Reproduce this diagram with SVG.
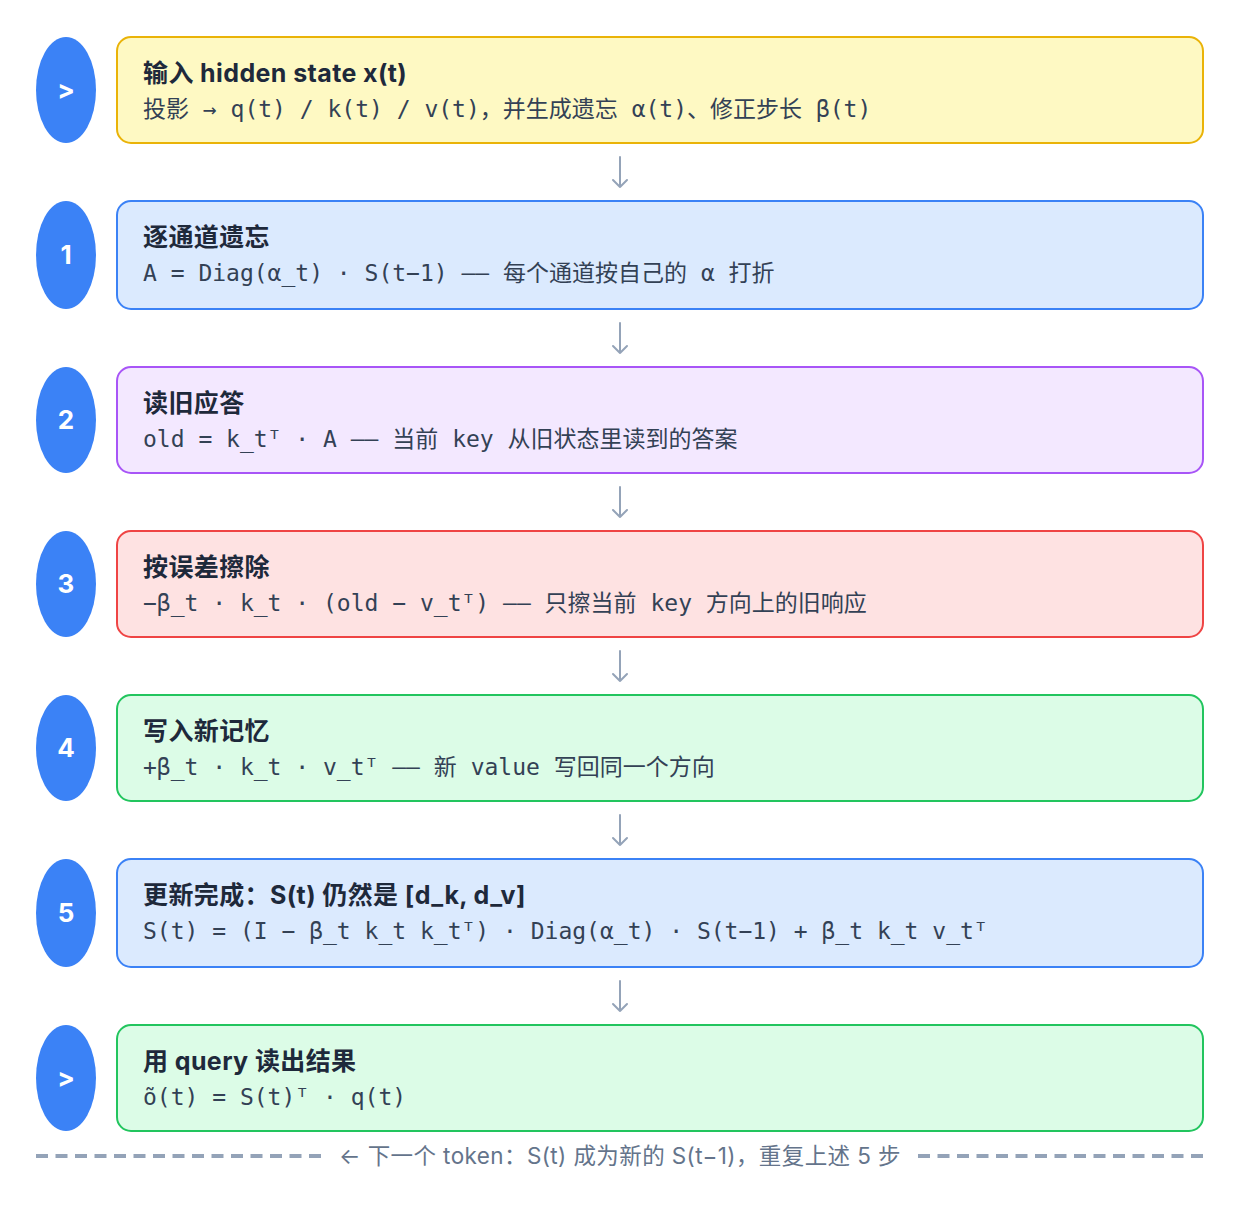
<svg xmlns="http://www.w3.org/2000/svg" width="1240" height="1208" viewBox="0 0 1240 1208">
<style>
.bg{fill:#ffffff}
.dot{fill:#3B82F6}
.num{font-family:"Inter","Liberation Sans",sans-serif;font-weight:700;font-size:26px;fill:#ffffff;text-anchor:middle}
.t{font-family:"Inter","Noto Sans CJK SC",sans-serif;font-weight:700;font-size:25px;letter-spacing:0.4px;fill:#1E293B}
.m{font-family:"DejaVu Sans Mono","Noto Sans CJK SC",monospace;font-size:23px;fill:#334155}
.c{font-family:"Noto Sans CJK SC",sans-serif}
.yel{fill:#FEF9C3;stroke:#EAB308;stroke-width:2}
.blu{fill:#DBEAFE;stroke:#3B82F6;stroke-width:2}
.pur{fill:#F3E8FF;stroke:#A855F7;stroke-width:2}
.red{fill:#FEE2E2;stroke:#EF4444;stroke-width:2}
.grn{fill:#DCFCE7;stroke:#22C55E;stroke-width:2}
.arr{fill:none;stroke:#94A3B8;stroke-width:2;stroke-linecap:round;stroke-linejoin:round}
.dash{fill:none;stroke:#94A3B8;stroke-width:4;stroke-dasharray:12 7.5}
.note{font-family:"Inter","Noto Sans CJK SC",sans-serif;font-size:22.5px;letter-spacing:0.4px;fill:#64748B;text-anchor:middle}
</style>
<rect class="bg" x="0" y="0" width="1240" height="1208"/>

<g id="step-input">
<ellipse class="dot" cx="66" cy="90" rx="30" ry="53"/>
<text class="num" x="66" y="99">&gt;</text>
<rect class="yel" x="117" y="37" width="1086" height="106" rx="14"/>
<text class="t" x="143" y="82">输入 hidden state x(t)</text>
<text class="m" x="143" y="117"><tspan class="c">投影</tspan> → q(t) / k(t) / v(t)<tspan class="c">，并生成遗忘</tspan> α(t)<tspan class="c">、修正步长</tspan> β(t)</text>
</g>

<g id="step-1">
<ellipse class="dot" cx="66" cy="255" rx="30" ry="54"/>
<text class="num" x="66" y="264">1</text>
<rect class="blu" x="117" y="201" width="1086" height="108" rx="14"/>
<text class="t" x="143" y="246">逐通道遗忘</text>
<text class="m" x="143" y="281">A = Diag(α_t) · S(t−1) <tspan>——</tspan> <tspan class="c">每个通道按自己的</tspan> α <tspan class="c">打折</tspan></text>
</g>

<g id="step-2">
<ellipse class="dot" cx="66" cy="420" rx="30" ry="53"/>
<text class="num" x="66" y="429">2</text>
<rect class="pur" x="117" y="367" width="1086" height="106" rx="14"/>
<text class="t" x="143" y="412">读旧应答</text>
<text class="m" x="143" y="447">old = k_tᵀ · A <tspan>——</tspan> <tspan class="c">当前</tspan> key <tspan class="c">从旧状态里读到的答案</tspan></text>
</g>

<g id="step-3">
<ellipse class="dot" cx="66" cy="584" rx="30" ry="53"/>
<text class="num" x="66" y="593">3</text>
<rect class="red" x="117" y="531" width="1086" height="106" rx="14"/>
<text class="t" x="143" y="576">按误差擦除</text>
<text class="m" x="143" y="611">−β_t · k_t · (old − v_tᵀ) <tspan>——</tspan> <tspan class="c">只擦当前</tspan> key <tspan class="c">方向上的旧响应</tspan></text>
</g>

<g id="step-4">
<ellipse class="dot" cx="66" cy="748" rx="30" ry="53"/>
<text class="num" x="66" y="757">4</text>
<rect class="grn" x="117" y="695" width="1086" height="106" rx="14"/>
<text class="t" x="143" y="740">写入新记忆</text>
<text class="m" x="143" y="775">+β_t · k_t · v_tᵀ <tspan>——</tspan> <tspan class="c">新</tspan> value <tspan class="c">写回同一个方向</tspan></text>
</g>

<g id="step-5">
<ellipse class="dot" cx="66" cy="913" rx="30" ry="54"/>
<text class="num" x="66" y="922">5</text>
<rect class="blu" x="117" y="859" width="1086" height="108" rx="14"/>
<text class="t" x="143" y="904">更新完成：S(t) 仍然是 [d_k, d_v]</text>
<text class="m" x="143" y="939">S(t) = (I − β_t k_t k_tᵀ) · Diag(α_t) · S(t−1) + β_t k_t v_tᵀ</text>
</g>

<g id="step-output">
<ellipse class="dot" cx="66" cy="1078" rx="30" ry="53"/>
<text class="num" x="66" y="1087">&gt;</text>
<rect class="grn" x="117" y="1025" width="1086" height="106" rx="14"/>
<text class="t" x="143" y="1070">用 query 读出结果</text>
<text class="m" x="143" y="1105">õ(t) = S(t)ᵀ · q(t)</text>
</g>

<g id="connectors">
<path class="arr" d="M620 157V187M613 180L620 187L627 180"/>
<path class="arr" d="M620 323V353M613 346L620 353L627 346"/>
<path class="arr" d="M620 487V517M613 510L620 517L627 510"/>
<path class="arr" d="M620 651V681M613 674L620 681L627 674"/>
<path class="arr" d="M620 815V845M613 838L620 845L627 838"/>
<path class="arr" d="M620 981V1011M613 1004L620 1011L627 1004"/>
</g>

<g id="loop">
<path class="dash" d="M36 1156H322"/>
<path class="dash" d="M918 1156H1204"/>
<text class="note" x="620" y="1164">← 下一个 token：S(t) 成为新的 S(t−1)，重复上述 5 步</text>
</g>
</svg>
